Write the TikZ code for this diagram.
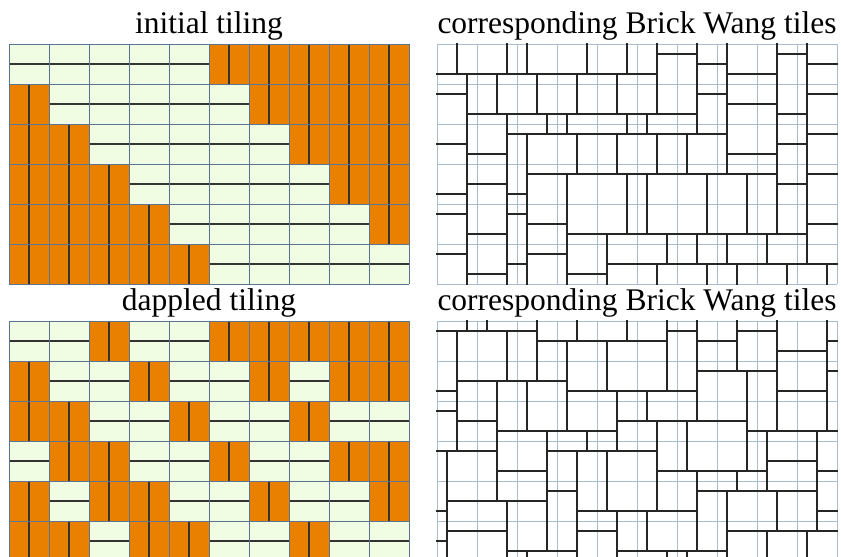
\documentclass[tikz,border=0pt]{standalone}
\usepackage{fontspec}
\setmainfont{Liberation Serif}
\definecolor{lightc}{RGB}{240,253,226}
\definecolor{orangec}{RGB}{234,128,0}
\definecolor{gridL}{RGB}{88,118,145}
\definecolor{gridR}{RGB}{168,190,208}
\tikzset{
  domino/.style={draw=black!80, line width=1.2pt},
  gridl/.style={draw=gridL, line width=0.9pt},
  gridr/.style={draw=gridR, line width=0.9pt},
  wang/.style={draw=black!85, line width=1.3pt, line cap=rect},
  title/.style={font=\fontsize{31.5}{38}\selectfont, anchor=base, inner sep=0pt},
}
% one row of the domino tiling: x0, y0, list of type/a/b/d
\newcommand\tilingrow[3]{%
  \foreach \ty/\pa/\pb/\pd [count=\ci from 0] in #3 {
    \pgfmathsetmacro\xx{#1+40*\ci}
    \if L\ty
      \fill[lightc] (\xx,#2) rectangle ({\xx+40},{#2+40});
      \draw[domino] (\xx,{#2+20}) -- ({\xx+40},{#2+20});
    \else
      \fill[orangec] (\xx,#2) rectangle ({\xx+40},{#2+40});
      \draw[domino] ({\xx+20},#2) -- ({\xx+20},{#2+40});
    \fi
  }}
% one row of Brick Wang tiles
\newcommand\wangrow[3]{%
  \foreach \ty/\pa/\pb/\pd [count=\ci from 0] in #3 {
    \pgfmathsetmacro\xx{#1+40*\ci}
    \if L\ty
      \draw[wang] (\xx,{#2+\pa}) -- ({\xx+40},{#2+\pa});
      \draw[wang] ({\xx+\pb},#2) -- ({\xx+\pb},{#2+\pa});
      \draw[wang] ({\xx+\pd},{#2+40}) -- ({\xx+\pd},{#2+\pa});
    \else
      \draw[wang] ({\xx+\pa},#2) -- ({\xx+\pa},{#2+40});
      \draw[wang] (\xx,{#2+\pb}) -- ({\xx+\pa},{#2+\pb});
      \draw[wang] ({\xx+40},{#2+\pd}) -- ({\xx+\pa},{#2+\pd});
    \fi
  }}
\newcommand\panelgrid[3]{% x0,y0,style
  \foreach \k in {0,...,10} \draw[#3] ({#1+40*\k},#2) -- ({#1+40*\k},{#2+240});
  \foreach \k in {0,...,6} \draw[#3] (#1,{#2+40*\k}) -- ({#1+400},{#2+40*\k});
}
\def\RowTa{L/30/20/30, L/30/30/20, L/30/10/20, L/30/30/20, L/30/30/20, O/20/30/10, O/20/10/20, O/10/20/30, O/20/30/10, O/10/10/20}
\def\RowTb{O/30/10/30, L/30/20/30, L/30/20/30, L/30/20/10, L/30/20/30, L/30/20/10, O/20/30/10, O/10/10/20, O/20/20/30, O/10/30/10}
\def\RowTc{O/30/20/30, O/30/30/10, L/10/30/10, L/10/10/20, L/10/30/20, L/10/10/20, L/10/20/10, O/10/10/30, O/20/30/20, O/10/20/10}
\def\RowTd{O/30/30/20, O/30/20/30, O/10/30/10, L/10/20/10, L/10/20/30, L/10/20/10, L/10/10/30, L/10/10/30, O/20/10/20, O/10/20/10}
\def\RowTe{O/30/10/30, O/30/30/10, O/10/10/20, O/10/20/30, L/30/30/10, L/30/10/30, L/30/30/20, L/30/30/10, L/30/20/10, O/10/30/20}
\def\RowTf{O/30/10/30, O/30/30/20, O/10/20/10, O/10/10/30, O/10/30/20, L/20/30/20, L/20/20/30, L/20/10/20, L/20/10/30, L/20/10/30}
\def\RowBa{L/10/30/20, L/10/10/30, O/20/10/20, L/20/20/10, L/20/30/10, O/30/20/10, O/20/10/20, O/20/20/10, O/20/10/30, O/30/30/20}
\def\RowBb{O/20/30/20, L/20/30/20, L/20/20/10, O/10/20/30, L/30/10/20, L/30/30/10, O/20/30/10, L/10/20/30, O/20/10/30, O/30/30/10}
\def\RowBc{O/20/10/20, O/20/20/30, L/30/10/30, L/30/10/30, O/20/30/20, L/20/10/20, L/20/20/10, O/30/20/30, L/30/20/10, L/30/30/20}
\def\RowBd{L/10/20/10, O/20/10/30, O/30/30/10, L/10/30/20, L/10/20/10, O/20/10/30, L/30/10/20, L/30/30/20, O/10/30/20, O/20/20/30}
\def\RowBe{O/10/30/20, L/20/20/30, O/30/20/10, O/20/10/30, L/30/10/20, L/30/20/10, O/20/30/10, L/10/20/10, L/10/10/20, O/20/10/30}
\def\RowBf{O/10/20/10, O/30/10/30, L/30/30/10, O/20/30/10, O/20/10/30, L/30/10/30, L/30/20/10, O/10/30/10, L/10/20/10, L/10/20/10}
\begin{document}
\begin{tikzpicture}[x=1pt,y=-1pt]
\useasboundingbox (0,0) rectangle (841,557);
\clip (0,0) rectangle (841,557);
\fill[white] (0,0) rectangle (841,557);
% titles
\node[title] (t1) at (209,33) {initial tiling};
\node[title] (t2) at (637,33) {corresponding Brick Wang tiles};
\node[title] (t3) at (209,310) {dappled tiling};
\node[title] (t4) at (637,310) {corresponding Brick Wang tiles};
% initial tiling
\tilingrow{9}{44}{\RowTa}
\tilingrow{9}{84}{\RowTb}
\tilingrow{9}{124}{\RowTc}
\tilingrow{9}{164}{\RowTd}
\tilingrow{9}{204}{\RowTe}
\tilingrow{9}{244}{\RowTf}
\panelgrid{9}{44}{gridl}
% dappled tiling
\tilingrow{9}{321}{\RowBa}
\tilingrow{9}{361}{\RowBb}
\tilingrow{9}{401}{\RowBc}
\tilingrow{9}{441}{\RowBd}
\tilingrow{9}{481}{\RowBe}
\tilingrow{9}{521}{\RowBf}
\panelgrid{9}{321}{gridl}
% Wang tiles, top
\panelgrid{437}{44}{gridr}
\wangrow{437}{44}{\RowTa}
\wangrow{437}{84}{\RowTb}
\wangrow{437}{124}{\RowTc}
\wangrow{437}{164}{\RowTd}
\wangrow{437}{204}{\RowTe}
\wangrow{437}{244}{\RowTf}
% Wang tiles, bottom
\panelgrid{437}{321}{gridr}
\wangrow{437}{321}{\RowBa}
\wangrow{437}{361}{\RowBb}
\wangrow{437}{401}{\RowBc}
\wangrow{437}{441}{\RowBd}
\wangrow{437}{481}{\RowBe}
\wangrow{437}{521}{\RowBf}
\end{tikzpicture}
\end{document}
